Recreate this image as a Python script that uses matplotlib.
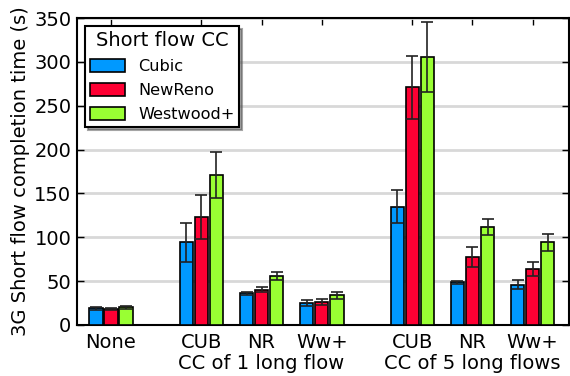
import matplotlib
matplotlib.use("Agg")
import matplotlib.pyplot as plt
import numpy as np

groups = ["None", "CUB", "NR", "Ww+", "CUB", "NR", "Ww+"]
group_x = [0, 1.5, 2.5, 3.5, 5, 6, 7]
series = ["Cubic", "NewReno", "Westwood+"]

cubic = [19, 94, 36, 25, 135, 48.5, 46]
cubic_err = [1.5, 22, 2, 3.5, 19, 2, 5]
newreno = [18, 123, 40, 26.5, 271, 77.5, 64]
newreno_err = [1.5, 25, 3, 3.5, 36, 11, 8]
westwood = [20, 171, 56, 34, 306, 112, 94]
westwood_err = [2, 26, 4.5, 4, 40, 9, 10]

colors = ["#0099ff", "#ff0033", "#99ff33"]

fig = plt.figure(figsize=(5.7, 3.76), dpi=100)
ax = fig.add_axes([0.135, 0.136, 0.863, 0.816])

x = np.array(group_x)
w = 0.22
for i, (vals, errs) in enumerate([(cubic, cubic_err), (newreno, newreno_err), (westwood, westwood_err)]):
    ax.bar(x + (i - 1) * 0.25, vals, w, yerr=errs, color=colors[i], edgecolor="black",
           linewidth=1.2, label=series[i], zorder=3,
           error_kw=dict(ecolor="#222222", elinewidth=1.2, capsize=4, capthick=1.2, zorder=4))

ax.set_xlim(-0.565, 7.6)
ax.set_ylim(0, 350)
ax.set_yticks(range(0, 351, 50))
ax.yaxis.grid(True, color="#d8d8d8", linewidth=2, zorder=0)
ax.set_axisbelow(True)
ax.set_xticks(group_x)
ax.set_xticklabels(groups, fontsize=14)
ax.tick_params(axis="y", labelsize=14, pad=4)
ax.tick_params(axis="x", pad=6)
ax.tick_params(direction="in", top=True, right=True, length=5, width=1)
for s in ax.spines.values():
    s.set_linewidth(1.5)

ax.set_ylabel("3G Short flow completion time (s)", fontsize=14, labelpad=3)

ax.text(2.5, -0.095, "CC of 1 long flow", transform=ax.get_xaxis_transform(),
        ha="center", va="top", fontsize=14)
ax.text(6, -0.095, "CC of 5 long flows", transform=ax.get_xaxis_transform(),
        ha="center", va="top", fontsize=14)

leg = ax.legend(title="Short flow CC", loc="upper left", fontsize=11.6, title_fontsize=14,
                fancybox=False, shadow=True, framealpha=1, edgecolor="black",
                bbox_to_anchor=(0.016, 0.974), borderaxespad=0, handlelength=2.2,
                handleheight=0.9, borderpad=0.3, labelspacing=0.55, handletextpad=0.8)
leg.get_frame().set_linewidth(1.5)

fig.savefig("out.png", dpi=100)
